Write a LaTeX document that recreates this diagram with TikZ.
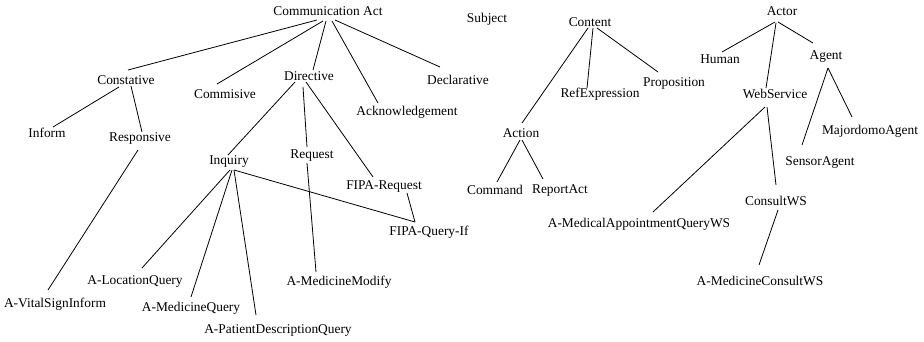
\documentclass[tikz,border=0pt]{standalone}
\usepackage{fontspec}
\setmainfont{Liberation Serif}
\newcommand{\edge}[4]{\draw ([shift={(#2)}]#1.center) -- ([shift={(#4)}]#3.center);}
\begin{document}
\begin{tikzpicture}[x=1pt,y=-1pt,
  lbl/.style={inner sep=0pt,font=\fontsize{13.4}{15}\selectfont},
  every path/.style={line width=0.8pt}]
\useasboundingbox[fill=white] (0,0) rectangle (924,342);
% communication act hierarchy
\node[lbl] (ca) at (328,11) {Communication Act};
\node[lbl] (subj) at (487,19) {Subject};
\node[lbl] (cons) at (126,80) {Constative};
\node[lbl] (commis) at (225,94) {Commisive};
\node[lbl] (dir) at (309,76) {Directive};
\node[lbl] (decl) at (458,80) {Declarative};
\node[lbl] (ack) at (407,112) {Acknowledgement};
\node[lbl] (inform) at (47,133) {Inform};
\node[lbl] (resp) at (140,138) {Responsive};
\node[lbl] (inq) at (229,162) {Inquiry};
\node[lbl] (req) at (312,156) {Request};
\node[lbl] (fiprq) at (384,187) {FIPA-Request};
\node[lbl] (fipqi) at (429,232) {FIPA-Query-If};
\node[lbl] (aloc) at (135,282) {A-LocationQuery};
\node[lbl] (avital) at (55,304) {A-VitalSignInform};
\node[lbl] (amedq) at (191,308) {A-MedicineQuery};
\node[lbl] (apat) at (278,331) {A-PatientDescriptionQuery};
\node[lbl] (amod) at (339,282) {A-MedicineModify};
% content hierarchy
\node[lbl] (content) at (590,22) {Content};
\node[lbl] (refexp) at (600,94) {RefExpression};
\node[lbl] (prop) at (674,83) {Proposition};
\node[lbl] (action) at (521,133) {Action};
\node[lbl] (command) at (495,190) {Command};
\node[lbl] (report) at (560,191) {ReportAct};
% actor hierarchy
\node[lbl] (actor) at (782,11) {Actor};
\node[lbl] (human) at (720,59) {Human};
\node[lbl] (agent) at (826,57) {Agent};
\node[lbl] (websvc) at (775,94) {WebService};
\node[lbl] (majord) at (870,131) {MajordomoAgent};
\node[lbl] (sensor) at (820,163) {SensorAgent};
\node[lbl] (consult) at (776,201) {ConsultWS};
\node[lbl] (amaq) at (639,224) {A-MedicalAppointmentQueryWS};
\node[lbl] (amcws) at (760,281) {A-MedicineConsultWS};
% links
\edge{ca}{-11,9}{cons}{2,-10}
\edge{ca}{-5,10}{commis}{-8,-10}
\edge{ca}{-2,10}{dir}{4,-6}
\edge{ca}{4,10}{ack}{-29,-9}
\edge{ca}{7,9}{decl}{-18,-13}
\edge{cons}{-7,7}{inform}{6,-6}
\edge{cons}{5,6}{resp}{2,-6}
\edge{dir}{-14,6}{inq}{-1,-7}
\edge{dir}{-6,11}{req}{-5,-9}
\edge{dir}{-3,6}{fiprq}{-11,-10}
\edge{resp}{-2,12}{avital}{-7,-14}
\edge{inq}{1,8}{aloc}{7,-14}
\edge{inq}{3,8}{amedq}{0,-11}
\edge{inq}{5,8}{apat}{-22,-16}
\edge{inq}{5,8}{fipqi}{-14,-10}
\edge{req}{-5,7}{amod}{-23,-10}
\edge{fiprq}{23,6}{fipqi}{-14,-10}
\edge{content}{-2,6}{action}{1,-10}
\edge{content}{3,6}{refexp}{-13,-6}
\edge{content}{7,6}{prop}{-16,-11}
\edge{action}{-1,7}{command}{2,-8}
\edge{action}{1,7}{report}{-17,-12}
\edge{actor}{-7,11}{human}{2,-7}
\edge{actor}{-6,12}{websvc}{-9,-6}
\edge{actor}{-4,11}{agent}{-13,-14}
\edge{agent}{2,11}{sensor}{-18,-18}
\edge{agent}{2,11}{majord}{-18,-14}
\edge{websvc}{-10,13}{amaq}{14,-12}
\edge{websvc}{-8,13}{consult}{0,-16}
\edge{consult}{2,9}{amcws}{-1,-16}
\end{tikzpicture}
\end{document}
